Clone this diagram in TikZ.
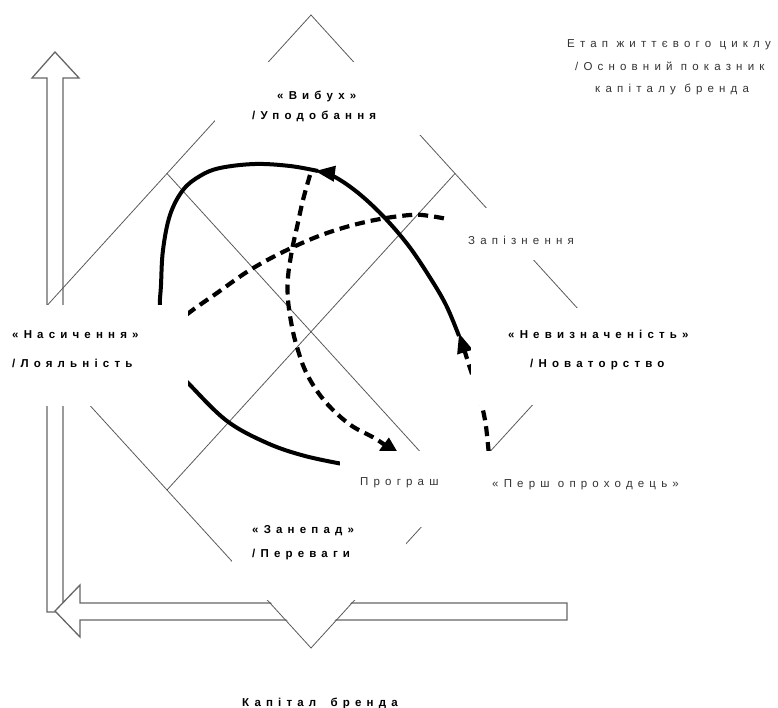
\documentclass[tikz,border=0pt]{standalone}
\usepackage{fontspec}
\setmainfont{Liberation Sans}
\newfontfamily\spaced[LetterSpace=45]{Liberation Sans}
\usetikzlibrary{arrows.meta,calc}
\begin{document}
\begin{tikzpicture}[x=1pt,y=-1pt,
  lbl/.style={font=\spaced\fontsize{11.5}{13}\selectfont, inner sep=0pt, anchor=base west, text=black!80},
  blbl/.style={font=\spaced\bfseries\fontsize{11.5}{13}\selectfont, inner sep=0pt, anchor=base west, text=black},
  gridline/.style={draw=black!65, line width=0.8pt},
  mask/.style={fill=white, draw=none},
  axisarrow/.style={draw=black!60, line width=1.3pt, fill=white, line join=miter},
  solidcurve/.style={draw=black, line width=4pt},
  dashcurve/.style={draw=black, line width=4.2pt, dash pattern=on 10pt off 6pt},
  bigtip/.style={-{Triangle[length=20pt,width=15pt]}}
]
\useasboundingbox (0,0) rectangle (778,708);

% axis arrows
\draw[axisarrow] (47,612) -- (47,78) -- (32,78) -- (55,52) -- (79,78) -- (63,78) -- (63,612) -- cycle;
\draw[axisarrow] (567,603) -- (80,603) -- (80,585) -- (55,611) -- (80,637) -- (80,620) -- (567,620) -- cycle;
\fill[white] (266,597) -- (311,646) -- (356,597) -- cycle;

% big diamond and its mid-lines
\coordinate (T) at (311,15);
\coordinate (R) at (599,332);
\coordinate (B) at (311,648);
\coordinate (L) at (23,332);
\draw[gridline] (T) -- (R) -- (B) -- (L) -- cycle;
\draw[gridline] ($(T)!0.5!(L)$) -- ($(R)!0.5!(B)$);
\draw[gridline] ($(T)!0.5!(R)$) -- ($(L)!0.5!(B)$);

% curves
\draw[solidcurve, bigtip] plot[smooth, tension=0.6] coordinates
  {(459,336) (446,305) (429,276) (408,245) (383,216) (357,192) (333,176) (315,171)};
\draw[solidcurve] plot[smooth, tension=0.6] coordinates
  {(318,171) (290,166) (255,164) (220,168) (200,176) (183,190) (170,215) (163,250) (161,285) (160,310) (165,345) (175,368) (190,385) (227,421) (267,443) (305,456) (348,465)};
\draw[dashcurve, bigtip] plot[smooth, tension=0.6] coordinates
  {(310,175) (303,200) (297,227) (292,250) (288,277) (288,300) (292,327) (297,347) (305,370) (317,391) (332,409) (352,426) (376,439) (400,456)};
\draw[dashcurve] plot[smooth, tension=0.6] coordinates
  {(175,325) (190,312) (217,293) (250,270) (287,250) (327,233) (370,221) (410,215) (430,216) (452,220)};
\draw[dashcurve, bigtip] plot[smooth, tension=0.6] coordinates
  {(490,468) (488,445) (485,420) (479,395) (470,368) (459,333)};

% white label areas
\fill[mask] (215,62) rectangle (445,135);
\fill[mask] (448,208) rectangle (580,260);
\fill[mask] (0,305) rectangle (188,406);
\fill[mask] (471,308) rectangle (720,405);
\fill[mask] (340,451) rectangle (700,527);
\fill[mask] (232,505) rectangle (406,600);

% texts
\node[lbl] (etap1) at (567,47.5) {Етап життєвого циклу};
\node[lbl] (etap2) at (575,71) {/Основний показник};
\node[lbl] (etap3) at (595,93) {капіталу бренда};
\node[blbl] (vyb1) at (277,100) {«Вибух»};
\node[blbl] (vyb2) at (252,120) {/Уподобання};
\node[blbl] (nas1) at (12,338.5) {«Насичення»};
\node[blbl] (nas2) at (12,367) {/Лояльність};
\node[lbl] (zap) at (468,245) {Запізнення};
\node[blbl] (nev1) at (508,338) {«Невизначеність»};
\node[blbl] (nev2) at (530,367) {/Новаторство};
\node[lbl] (prog) at (360,485) {Програш};
\node[lbl] (persh) at (492,487) {«Перш опроходець»};
\node[blbl] (zan1) at (252,533) {«Занепад»};
\node[blbl] (zan2) at (252,557) {/Переваги};
\node[blbl] (kap) at (242,706) {Капітал\hspace{6pt} бренда};
\end{tikzpicture}
\end{document}
